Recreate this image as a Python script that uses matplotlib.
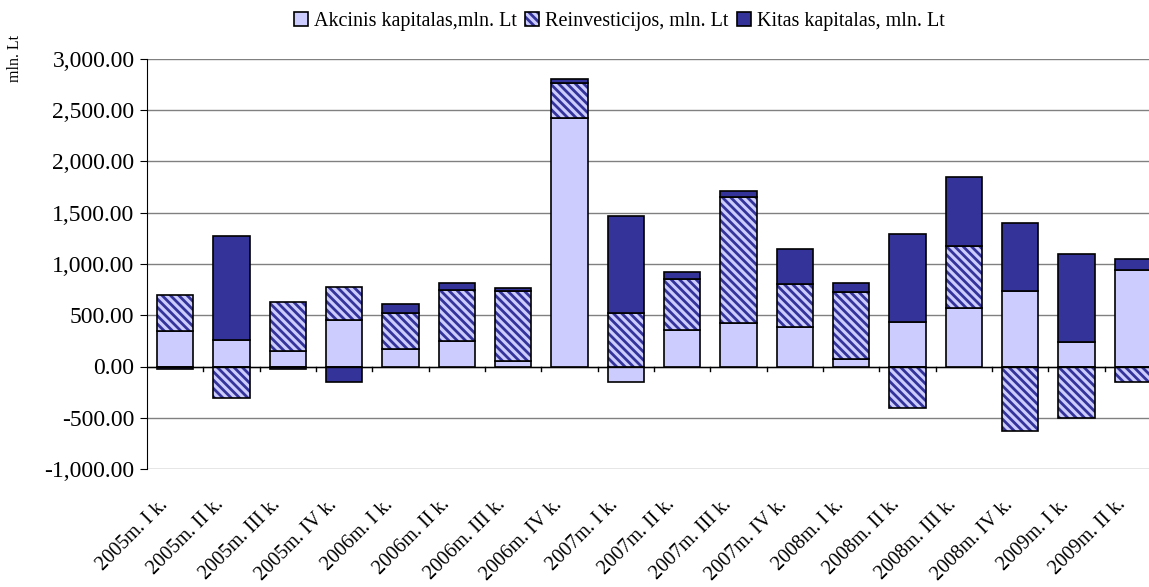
import matplotlib
matplotlib.use("Agg")
import matplotlib.pyplot as plt
import numpy as np
from matplotlib.ticker import FuncFormatter
from matplotlib.legend_handler import HandlerTuple

# ---- data (mln. Lt) ----
ketvirciai = ["2005m. I k.", "2005m. II k.", "2005m. III k.", "2005m. IV k.",
              "2006m. I k.", "2006m. II k.", "2006m. III k.", "2006m. IV k.",
              "2007m. I k.", "2007m. II k.", "2007m. III k.", "2007m. IV k.",
              "2008m. I k.", "2008m. II k.", "2008m. III k.", "2008m. IV k.",
              "2009m. I k.", "2009m. II k."]
akcinis = [344, 263, 156, 451, 169, 250, 58, 2422, -156, 357, 428, 386,
           75, 438, 571, 733, 237, 938]
reinvesticijos = [354, -305, 474, 328, 350, 497, 682, 341, 519, 497, 1225, 416,
                  649, -409, 608, -630, -506, -156]
kitas = [-22, 1013, -22, -156, 95, 71, 23, 42, 945, 71, 55, 341,
         94, 851, 665, 670, 864, 111]

serijos = ["Akcinis kapitalas,mln. Lt", "Reinvesticijos, mln. Lt", "Kitas kapitalas, mln. Lt"]

SVIESI = '#CCCCFF'
TAMSI = '#333399'

plt.rcParams['font.family'] = ['Liberation Serif', 'DejaVu Serif']
plt.rcParams['hatch.linewidth'] = 2.0

fig = plt.figure(figsize=(11.49, 5.87), dpi=100)
ax = fig.add_axes([147/1149, 1-469/587, 1014/1149, 410/587])

x = np.arange(len(ketvirciai))
poz = np.zeros(len(x))
neg = np.zeros(len(x))
rankenos = []
for k, reiksmes in enumerate([akcinis, reinvesticijos, kitas]):
    v = np.array(reiksmes, dtype=float)
    apacia = np.where(v >= 0, poz, neg)
    if k == 1:
        # hatch colour follows edgecolor -> draw hatch first, black outline on top
        h1 = ax.bar(x, v, bottom=apacia, width=0.64, facecolor=SVIESI, hatch='\\' * 4,
                    edgecolor=TAMSI, linewidth=0, zorder=3)
        h2 = ax.bar(x, v, bottom=apacia, width=0.64, fill=False,
                    edgecolor='black', linewidth=1.2, zorder=3)
        rankenos.append((h1, h2))
    else:
        spalva = SVIESI if k == 0 else TAMSI
        h = ax.bar(x, v, bottom=apacia, width=0.64, facecolor=spalva,
                   edgecolor='black', linewidth=1.2, zorder=3)
        rankenos.append(h)
    poz = poz + np.where(v >= 0, v, 0)
    neg = neg + np.where(v < 0, v, 0)

ax.set_xlim(-0.5, len(x) - 0.5)
ax.set_ylim(-1000, 3000)
ax.set_yticks(np.arange(-1000, 3001, 500))
ax.yaxis.set_major_formatter(FuncFormatter(lambda v, p: f"{v:,.2f}"))
ax.grid(axis='y', color='#808080', linewidth=1.0, zorder=0)
ax.axhline(0, color='black', linewidth=1.0, zorder=4)

for s in ['top', 'right', 'bottom']:
    ax.spines[s].set_visible(False)
ax.spines['left'].set_color('black')
ax.tick_params(axis='y', direction='out', length=5, labelsize=17, pad=4)

# x ticks: category boundaries hanging under zero line, labels separate
ax.set_xticks([])
for b in np.arange(0.5, len(x) - 0.5, 1):
    ax.plot([b, b], [0, -45], color='black', linewidth=1.0, zorder=4, clip_on=False)
for i, t in enumerate(ketvirciai):
    ax.annotate(t, xy=(i, -1000), xycoords='data', xytext=(-5, -26),
                textcoords='offset points', rotation=45, ha='right', va='baseline',
                rotation_mode='anchor', fontsize=14.5, annotation_clip=False)

fig.text(15/1149, 1-58/587, "mln. Lt", rotation=90, fontsize=11.5, ha='center', va='center')

ax.legend(rankenos, serijos, loc='center', bbox_to_anchor=(0.466, 1.092), ncol=3,
          frameon=False, fontsize=14.5, handlelength=0.7, handleheight=0.7,
          handletextpad=0.3, columnspacing=0.4,
          handler_map={tuple: HandlerTuple(ndivide=1)})

fig.savefig("out.png", dpi=100)
